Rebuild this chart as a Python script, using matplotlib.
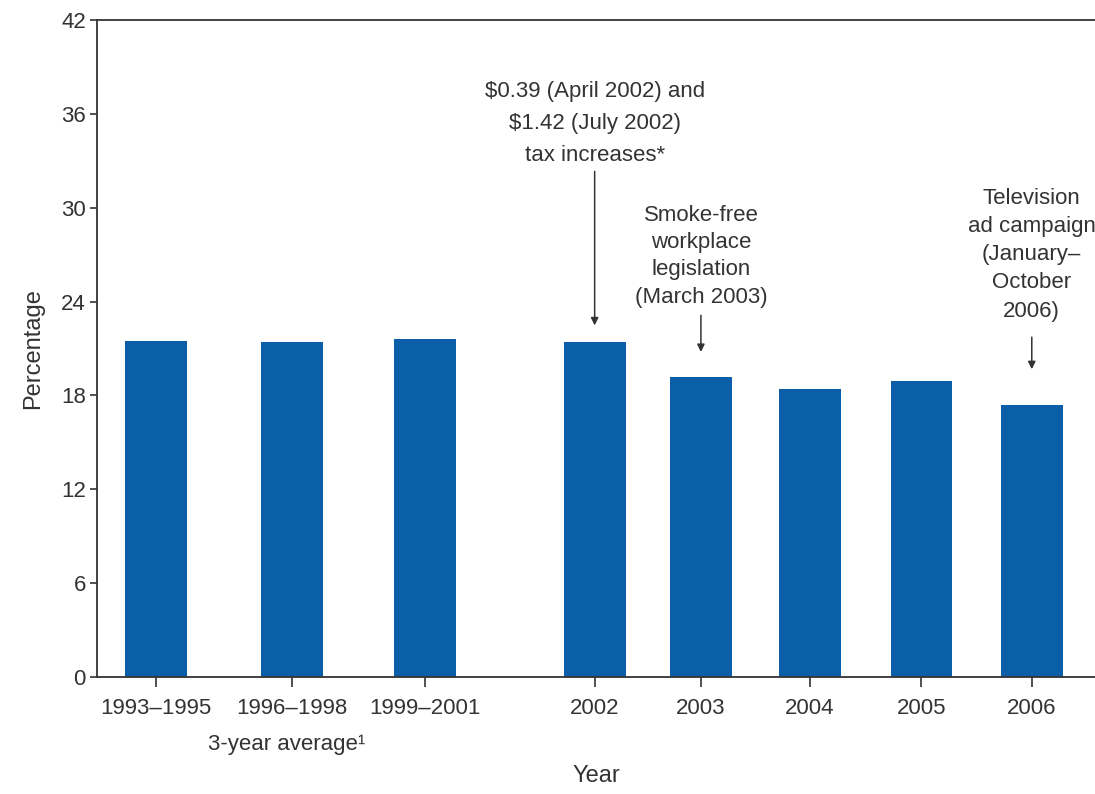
import matplotlib
matplotlib.use("Agg")
import matplotlib.pyplot as plt

plt.rcParams['font.family'] = ['Liberation Sans', 'DejaVu Sans']

# data
labels = ['1993–1995', '1996–1998', '1999–2001', '2002', '2003', '2004', '2005', '2006']
positions = [0, 1.01, 2.0, 3.26, 4.05, 4.86, 5.69, 6.51]
values = [21.5, 21.4, 21.6, 21.4, 19.2, 18.4, 18.9, 17.4]

tax_note = '\\$0.39 (April 2002) and\n\\$1.42 (July 2002)\ntax increases*'
smoke_note = 'Smoke-free\nworkplace\nlegislation\n(March 2003)'
tv_note = 'Television\nad campaign\n(January–\nOctober\n2006)'

blue = '#0b5ea8'
ink = '#333333'

fig = plt.figure(figsize=(10.95, 7.94), dpi=100)
ax = fig.add_axes([97 / 1095, 117 / 794, 1 - 97 / 1095, 657 / 794])

ax.bar(positions, values, width=0.46, color=blue, edgecolor='none')

ax.set_xlim(-0.44, 6.98)
ax.set_ylim(0, 42)
ax.set_yticks(range(0, 43, 6))
ax.set_xticks(positions)
ax.set_xticklabels(labels)

ax.spines['right'].set_visible(False)
for s in ['left', 'top', 'bottom']:
    ax.spines[s].set_color(ink)
    ax.spines[s].set_linewidth(1.3)
ax.tick_params(axis='y', length=5, width=1.2, pad=3, labelsize=16, colors=ink)
ax.tick_params(axis='x', length=7, width=1.2, pad=8, labelsize=16, colors=ink)

ax.set_ylabel('Percentage', fontsize=17, color=ink, labelpad=12)
ax.set_xlabel('Year', fontsize=17, color=ink, labelpad=33)

ax.text(0.97, -0.103, '3-year average¹', transform=ax.get_xaxis_transform(),
        ha='center', va='center', fontsize=16, color=ink, clip_on=False)

# annotations
ax.text(positions[3], 35.4, tax_note, ha='center', va='center', fontsize=16,
        color=ink, linespacing=1.7)
ax.text(positions[4], 26.9, smoke_note, ha='center', va='center', fontsize=16,
        color=ink, linespacing=1.4)
ax.text(positions[7], 27.0, tv_note, ha='center', va='center', fontsize=16,
        color=ink, linespacing=1.45, clip_on=False)

arrow = dict(arrowstyle='-|>', color=ink, lw=1.1, mutation_scale=11)
ax.annotate('', xy=(positions[3], 22.3), xytext=(positions[3], 32.5), arrowprops=arrow)
ax.annotate('', xy=(positions[4], 20.6), xytext=(positions[4], 23.3), arrowprops=arrow)
ax.annotate('', xy=(positions[7], 19.5), xytext=(positions[7], 21.9), arrowprops=arrow)

fig.savefig('out.png', dpi=100)
